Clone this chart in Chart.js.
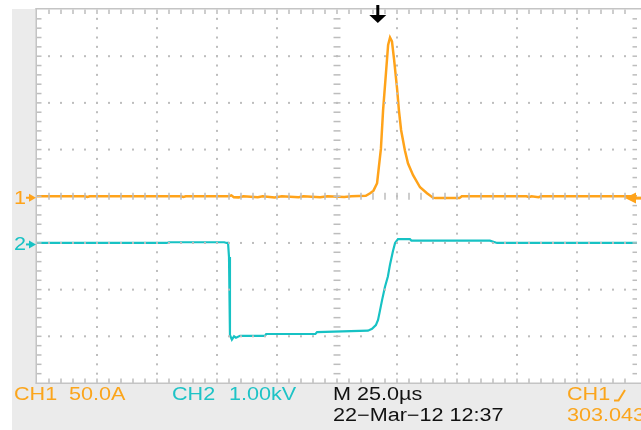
<!DOCTYPE html>
<html>
<head>
<meta charset="utf-8">
<script src="https://cdn.jsdelivr.net/npm/chart.js@4.4.1/dist/chart.umd.min.js"></script>
<style>
  html, body { margin: 0; padding: 0; background: #fff; }
  #wrap { position: relative; width: 641px; height: 430px; overflow: hidden; background: #fff; }
  #panelL { position: absolute; left: 12px; top: 9px; width: 25px; height: 421px; background: #ebebeb; }
  #panelB { position: absolute; left: 12px; top: 383px; width: 629px; height: 47px; background: #ebebeb; }
  #scope { position: absolute; left: 0; top: 0; }
  .ro { position: absolute; font: 18px 'Liberation Sans', Arial, sans-serif; line-height: 18px;
        white-space: nowrap; transform: scaleX(1.2); transform-origin: 0 0; }
  #slope { position: absolute; left: 0; top: 0; }
</style>
</head>
<body>
<div id="wrap">
  <div id="panelL"></div>
  <div id="panelB"></div>
  <canvas id="scope" width="641" height="430"></canvas>
  <div id="readouts"></div>
  <svg id="slope" width="641" height="430"><polyline points="614,400.5 618.5,400.5 625,390" fill="none" stroke="#fba51c" stroke-width="2"/></svg>
</div>
<script>
// Acquisition settings
const timePerDivUs = 25;
const ch1AmpsPerDiv = 50;
const ch2KvPerDiv = 1.0;
const ch1OffsetDiv = 0;
const ch2OffsetDiv = -1;
const triggerTimeUs = 142;
const triggerLevelAmps = -2;

// CH1: current (A) vs time (µs)
const ch1TimeUs = [0, 20, 21, 22, 60, 61, 62, 80, 81, 82, 84, 86, 92, 94, 99, 102, 109, 111, 118, 121, 128, 131,
  137, 138.8, 140.2, 141.7, 142.3, 143.3, 144.2, 145.4, 146.3, 147.1, 147.9, 148.8, 150, 150.8, 151.7, 153.3,
  154.6, 156.7, 159.6, 162.5, 165, 166, 176, 177, 204, 205, 206, 209, 210, 250];
const ch1Amps = [0, 0, -0.8, 0, 0, -0.8, 0, 0, 1, -1, -1.2, 0, -1, 0, -1.2, 0, -1, 0, -1, 0, -0.8, 0,
  0.5, 3.2, 6, 14, 28, 51, 92, 132, 162, 170, 166, 146, 116, 92, 71, 49,
  35, 22.5, 9.6, 3.2, -1.5, -2, -2, 0, 0, -1, 0, -1, 0, 0];

// CH2: voltage (kV) vs time (µs)
const ch2TimeUs = [0, 54, 55, 78, 79, 79.6, 80, 80.4, 81.2, 82.1, 82.9, 84.6, 95, 95.5, 116, 116.7, 137.9,
  139.6, 141.2, 142.1, 142.9, 143.8, 145, 146.2, 147.1, 148.3, 149.2, 150.4, 155.4, 156, 188.7, 191.7, 250];
const ch2Kv = [0, 0, 0.015, 0.015, 0, 0, -0.3, -1.97, -2.07, -2.0, -2.03, -1.99, -1.99, -1.95, -1.95, -1.91, -1.88,
  -1.84, -1.76, -1.65, -1.45, -1.22, -0.94, -0.72, -0.46, -0.18, 0, 0.08, 0.08, 0.05, 0.05, 0, 0];

// Readout texts along the bottom
const readoutRow1 = [
  { text: 'CH1', x: 14, color: '#fba51c' },
  { text: '50.0A', x: 69, color: '#fba51c' },
  { text: 'CH2', x: 172, color: '#1ec3c6' },
  { text: '1.00kV', x: 229, color: '#1ec3c6' },
  { text: 'M 25.0\u00b5s', x: 333, color: '#111' },
  { text: 'CH1', x: 567, color: '#fba51c' }
];
const readoutRow2 = [
  { text: '22\u2212Mar\u221212 12:37', x: 333, color: '#111' },
  { text: '303.043', x: 567, color: '#fba51c' }
];

const ORANGE = '#ffa31a';
const CYAN = '#17c2c4';

const box = document.getElementById('readouts');
function addRow(items, top) {
  items.forEach(it => {
    const d = document.createElement('div');
    d.className = 'ro';
    d.style.left = it.x + 'px';
    d.style.top = top + 'px';
    d.style.color = it.color;
    d.textContent = it.text;
    box.appendChild(d);
  });
}
addRow(readoutRow1, 385);
addRow(readoutRow2, 406);

// Graticule: dotted division lines, centre cross and edge ticks, drawn over the traces
const graticule = {
  id: 'graticule',
  afterDatasetsDraw(chart) {
    const { ctx, chartArea: a, scales: { x, y } } = chart;
    const xs = [], ys = [];
    for (let i = 0; i <= 50; i++) xs.push(x.getPixelForValue(i * timePerDivUs / 5));
    for (let j = 0; j <= 40; j++) ys.push(y.getPixelForValue(-4 + j * 0.2));
    ctx.save();
    ctx.fillStyle = '#bdbdbd';
    for (let i = 5; i < 50; i += 5) {
      if (i === 25) continue;
      for (let j = 1; j < 40; j++) ctx.fillRect(xs[i] - 1, ys[j] - 1, 2, 2);
    }
    for (let j = 5; j < 40; j += 5) {
      if (j === 20) continue;
      for (let i = 1; i < 50; i++) ctx.fillRect(xs[i] - 1, ys[j] - 1, 2, 2);
    }
    const cx = xs[25], cy = ys[20];
    for (let j = 1; j < 40; j++) ctx.fillRect(cx - 3.5, ys[j] - 0.75, 7, 1.5);
    for (let i = 1; i < 50; i++) ctx.fillRect(xs[i] - 0.75, cy - 3.5, 1.5, 7);
    for (let i = 1; i < 50; i++) {
      ctx.fillRect(xs[i] - 0.75, a.top, 1.5, 4.5);
      ctx.fillRect(xs[i] - 0.75, a.bottom - 4.5, 1.5, 4.5);
    }
    for (let j = 1; j < 40; j++) {
      ctx.fillRect(a.left, ys[j] - 0.75, 4.5, 1.5);
      ctx.fillRect(a.right - 4.5, ys[j] - 0.75, 4.5, 1.5);
    }
    ctx.fillStyle = '#c4c4c4';
    ctx.fillRect(a.left - 1.5, a.top - 1.5, chart.width - a.left + 2, 1.5);
    ctx.fillRect(a.left - 1.5, a.top - 1.5, 1.5, a.bottom - a.top + 2);
    ctx.fillRect(a.left - 1.5, a.bottom - 0.5, chart.width - a.left + 2, 1.5);
    ctx.restore();
  },
  afterDraw(chart) {
    const { ctx, scales: { x, y } } = chart;
    ctx.save();
    // trigger position arrow
    const tx = x.getPixelForValue(triggerTimeUs);
    ctx.fillStyle = '#000';
    ctx.fillRect(tx - 1.5, 5, 3, 11);
    ctx.beginPath();
    ctx.moveTo(tx - 8.5, 15); ctx.lineTo(tx + 8.5, 15); ctx.lineTo(tx, 23); ctx.closePath();
    ctx.fill();
    // channel ground markers
    const marks = [[ '1', ch1OffsetDiv, ORANGE ], [ '2', ch2OffsetDiv, CYAN ]];
    ctx.font = '18px "Liberation Sans", Arial, sans-serif';
    ctx.textBaseline = 'middle';
    marks.forEach(([label, off, col]) => {
      const py = y.getPixelForValue(off) + 1.5;
      ctx.fillStyle = col;
      ctx.save();
      ctx.translate(14, py);
      ctx.scale(1.2, 1);
      ctx.fillText(label, 0, 1);
      ctx.restore();
      ctx.fillRect(26, py - 1, 5, 2);
      ctx.beginPath();
      ctx.moveTo(29, py - 4); ctx.lineTo(36, py); ctx.lineTo(29, py + 4); ctx.closePath();
      ctx.fill();
    });
    // trigger level marker
    const ly = y.getPixelForValue(triggerLevelAmps / ch1AmpsPerDiv + ch1OffsetDiv);
    ctx.fillStyle = ORANGE;
    ctx.beginPath();
    ctx.moveTo(625, ly); ctx.lineTo(636, ly - 5.5); ctx.lineTo(636, ly + 5.5); ctx.closePath();
    ctx.fill();
    ctx.fillRect(635, ly - 1.5, 6, 3);
    ctx.restore();
  }
};

const ch1Points = ch1TimeUs.map((t, i) => ({ x: t, y: ch1Amps[i] / ch1AmpsPerDiv + ch1OffsetDiv }));
const ch2Points = ch2TimeUs.map((t, i) => ({ x: t, y: ch2Kv[i] / ch2KvPerDiv + ch2OffsetDiv }));

new Chart(document.getElementById('scope'), {
  type: 'line',
  data: {
    datasets: [
      { label: 'CH1', data: ch1Points, borderColor: ORANGE, borderWidth: 2.5, pointRadius: 0, tension: 0, fill: false },
      { label: 'CH2', data: ch2Points, borderColor: CYAN, borderWidth: 2.2, pointRadius: 0, tension: 0, fill: false }
    ]
  },
  options: {
    responsive: false,
    animation: false,
    devicePixelRatio: 1,
    layout: { padding: { left: 37, top: 9.5, right: 4, bottom: 47 } },
    plugins: { legend: { display: false }, tooltip: { enabled: false } },
    scales: {
      x: { type: 'linear', min: 0, max: 10 * timePerDivUs, display: false },
      y: { type: 'linear', min: -4, max: 4, display: false }
    }
  },
  plugins: [graticule]
});
</script>
</body>
</html>
